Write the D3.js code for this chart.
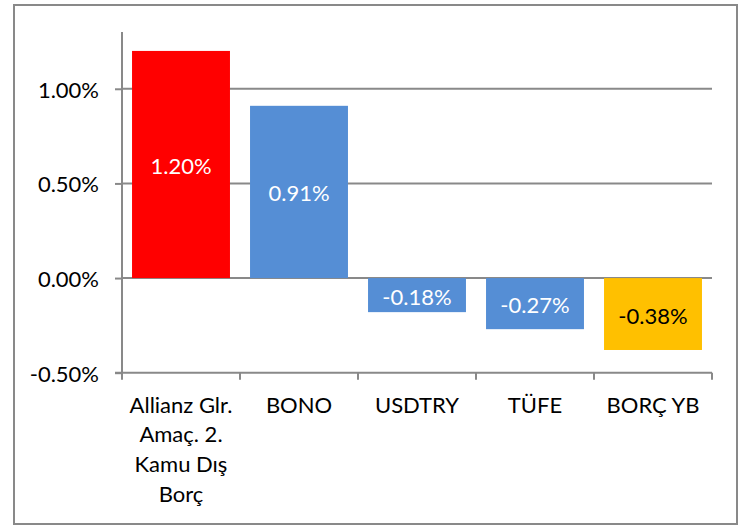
<!DOCTYPE html>
<html>
<head>
<meta charset="utf-8">
<script src="https://cdn.jsdelivr.net/npm/d3@7"></script>
<style>
  body { margin: 0; background: #fff; }
  text { font-family: Lato, "Noto Sans", sans-serif; }
</style>
</head>
<body>
<svg id="chart"></svg>
<script>
// chart data
const categories = ['Allianz Glr. Amaç. 2. Kamu Dış Borç', 'BONO', 'USDTRY', 'TÜFE', 'BORÇ YB'];
const categoryLines = [['Allianz Glr.', 'Amaç. 2.', 'Kamu Dış', 'Borç'], ['BONO'], ['USDTRY'], ['TÜFE'], ['BORÇ YB']];
const values = [1.20, 0.91, -0.18, -0.27, -0.38];
const barColors = ['#ff0000', '#558ed5', '#558ed5', '#558ed5', '#ffc000'];
const labelColors = ['#ffffff', '#ffffff', '#ffffff', '#ffffff', '#000000'];
const yTicks = [-0.5, 0, 0.5, 1.0];

const W = 748, H = 529;
const fontSize = 22;
const grey = '#898989';

// plain hyphen instead of the unicode minus d3 uses
const pct = d => d3.format('.2f')(d).replace('−', '-') + '%';

const chart = d3.select('#chart')
  .attr('width', W)
  .attr('height', H);

// outer frame
chart.append('rect')
  .attr('x', 14).attr('y', 5)
  .attr('width', 723).attr('height', 519)
  .attr('fill', '#fff')
  .attr('stroke', grey)
  .attr('stroke-width', 2);

const x = d3.scaleBand()
  .domain(categories)
  .range([122, 712])
  .paddingInner(0.17)
  .paddingOuter(0.085);

const y = d3.scaleLinear()
  .domain([-0.5, 1.3])
  .range([372.7, 32]);

// gridlines
chart.append('g')
  .selectAll('line')
  .data(yTicks.filter(d => d > -0.5)).enter()
  .append('line')
  .attr('x1', 122).attr('x2', 712)
  .attr('y1', d => y(d)).attr('y2', d => y(d))
  .attr('stroke', grey)
  .attr('stroke-width', 2);

// y axis
const yAxis = chart.append('g')
  .attr('transform', 'translate(122,0)')
  .call(d3.axisLeft(y).tickValues(yTicks).tickSize(7).tickPadding(16)
    .tickFormat(pct));
yAxis.select('.domain').remove();
yAxis.selectAll('.tick line').attr('stroke', grey).attr('stroke-width', 2);
yAxis.selectAll('.tick text')
  .attr('font-size', fontSize)
  .attr('font-family', 'Lato, sans-serif')
  .attr('fill', '#000')
  .attr('dy', null)
  .attr('dominant-baseline', 'central');
yAxis.append('line')
  .attr('x1', 0).attr('x2', 0)
  .attr('y1', y(1.3)).attr('y2', y(-0.5))
  .attr('stroke', grey).attr('stroke-width', 2);

// x axis at the bottom of the plot
const xAxis = chart.append('g')
  .attr('transform', `translate(0,${y(-0.5)})`);
xAxis.append('line')
  .attr('x1', 115).attr('x2', 712)
  .attr('stroke', grey).attr('stroke-width', 2);
const bounds = categories.map(c => x(c) - x.step() * 0.085).concat([712]);
xAxis.selectAll('line.tk')
  .data(bounds).enter()
  .append('line')
  .attr('class', 'tk')
  .attr('x1', d => d).attr('x2', d => d)
  .attr('y1', 0).attr('y2', 7)
  .attr('stroke', grey).attr('stroke-width', 2);

// category labels
const catLabels = chart.append('g')
  .selectAll('text')
  .data(categories).enter()
  .append('text')
  .attr('x', d => x(d) + x.bandwidth() / 2)
  .attr('y', 412.5)
  .attr('text-anchor', 'middle')
  .attr('font-size', fontSize)
  .attr('fill', '#000');
catLabels.selectAll('tspan')
  .data((d, i) => categoryLines[i]).enter()
  .append('tspan')
  .attr('x', function () { return this.parentNode.getAttribute('x'); })
  .attr('dy', (d, i) => i === 0 ? 0 : 29.7)
  .text(d => d);

// bars
chart.append('g')
  .selectAll('rect')
  .data(values).enter()
  .append('rect')
  .attr('x', (d, i) => x(categories[i]))
  .attr('width', x.bandwidth())
  .attr('y', d => y(Math.max(0, d)))
  .attr('height', d => Math.abs(y(d) - y(0)))
  .attr('fill', (d, i) => barColors[i]);

// value labels in the middle of each bar
chart.append('g')
  .selectAll('text')
  .data(values).enter()
  .append('text')
  .attr('x', (d, i) => x(categories[i]) + x.bandwidth() / 2)
  .attr('y', d => (y(d) + y(0)) / 2 + 1)
  .attr('text-anchor', 'middle')
  .attr('dominant-baseline', 'central')
  .attr('font-size', fontSize)
  .attr('fill', (d, i) => labelColors[i])
  .text(pct);
</script>
</body>
</html>
